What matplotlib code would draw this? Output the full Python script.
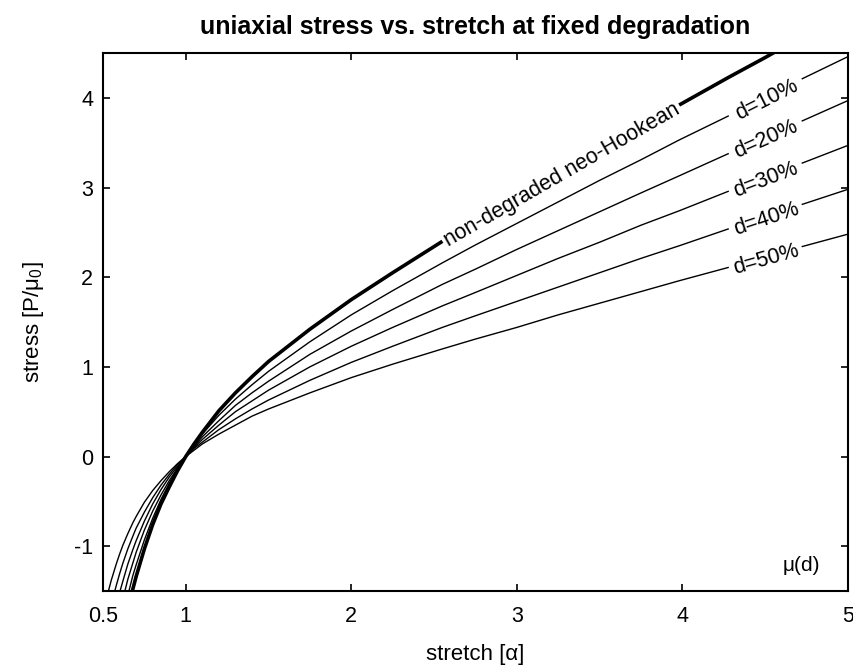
import numpy as np
import matplotlib
matplotlib.use("Agg")
import matplotlib.pyplot as plt

plt.rcParams["font.family"] = ["Liberation Sans", "DejaVu Sans"]
plt.rcParams["mathtext.fontset"] = "custom"
plt.rcParams["mathtext.rm"] = "Liberation Sans"
plt.rcParams["axes.unicode_minus"] = False

# stretch values sampled along the curves
stretch = [0.50, 0.52, 0.55, 0.58, 0.60, 0.62, 0.65, 0.68, 0.70, 0.75, 0.80, 0.85, 0.90,
           0.95, 1.00, 1.05, 1.10, 1.20, 1.30, 1.40, 1.50, 1.75, 2.00, 2.25, 2.55,
           2.75, 3.00, 3.25, 3.50, 3.75, 3.98, 4.28, 4.50, 4.72, 5.00]

# stress, one list per degradation level
stress_d0 = [-3.50, -3.18, -2.76, -2.39, -2.18, -1.98, -1.72, -1.48, -1.34, -1.03, -0.76, -0.53, -0.34,
             -0.16, 0.00, 0.14, 0.27, 0.51, 0.71, 0.89, 1.06, 1.42, 1.75, 2.05, 2.40,
             2.62, 2.89, 3.16, 3.42, 3.68, 3.92, 4.23, 4.45, 4.68, 4.96]
stress_d10 = [-3.15, -2.86, -2.48, -2.15, -1.96, -1.78, -1.55, -1.33, -1.21, -0.93, -0.69, -0.48, -0.30,
              -0.14, 0.00, 0.13, 0.25, 0.46, 0.64, 0.80, 0.95, 1.28, 1.58, 1.85, 2.16,
              2.36, 2.60, 2.84, 3.08, 3.31, 3.53, 3.80, 4.01, 4.21, 4.46]
stress_d20 = [-2.80, -2.54, -2.21, -1.91, -1.74, -1.59, -1.37, -1.19, -1.07, -0.82, -0.61, -0.43, -0.27,
              -0.13, 0.00, 0.11, 0.22, 0.40, 0.57, 0.71, 0.84, 1.14, 1.40, 1.64, 1.92,
              2.09, 2.31, 2.52, 2.73, 2.94, 3.13, 3.38, 3.56, 3.74, 3.97]
stress_d30 = [-2.45, -2.23, -1.93, -1.68, -1.52, -1.39, -1.20, -1.04, -0.94, -0.72, -0.53, -0.37, -0.23,
              -0.11, 0.00, 0.10, 0.19, 0.35, 0.50, 0.62, 0.74, 1.00, 1.23, 1.44, 1.68,
              1.83, 2.02, 2.21, 2.39, 2.58, 2.74, 2.96, 3.12, 3.27, 3.47]
stress_d40 = [-2.10, -1.91, -1.65, -1.44, -1.31, -1.19, -1.03, -0.89, -0.80, -0.62, -0.46, -0.32, -0.20,
              -0.09, 0.00, 0.09, 0.16, 0.30, 0.42, 0.53, 0.63, 0.85, 1.05, 1.23, 1.44,
              1.57, 1.73, 1.89, 2.05, 2.21, 2.35, 2.54, 2.67, 2.81, 2.98]
stress_d50 = [-1.75, -1.59, -1.38, -1.20, -1.09, -0.99, -0.86, -0.74, -0.67, -0.51, -0.38, -0.27, -0.17,
              -0.08, 0.00, 0.07, 0.14, 0.25, 0.35, 0.45, 0.53, 0.71, 0.88, 1.03, 1.20,
              1.31, 1.44, 1.58, 1.71, 1.84, 1.96, 2.11, 2.23, 2.34, 2.48]

curve_labels = ["non-degraded neo-Hookean", "d=10%", "d=20%", "d=30%", "d=40%", "d=50%"]
# stretch range where each label sits on its curve
label_gaps = [(2.55, 3.98), (4.28, 4.72), (4.28, 4.72), (4.28, 4.72), (4.28, 4.72), (4.28, 4.72)]
line_widths = [2.6, 1.0, 1.0, 1.0, 1.0, 1.0]


def draw_curve(ax, a, s, label, gap, lw):
    masked = np.where((a > gap[0] + 1e-9) & (a < gap[1] - 1e-9), np.nan, s)
    ax.plot(a, masked, color="black", lw=lw, solid_capstyle="butt")
    i0 = int(np.argmin(np.abs(a - gap[0])))
    i1 = int(np.argmin(np.abs(a - gap[1])))
    xm = 0.5 * (a[i0] + a[i1])
    ym = 0.5 * (s[i0] + s[i1])
    ang = np.degrees(np.arctan2(s[i1] - s[i0], a[i1] - a[i0]))
    ax.text(xm, ym, label, fontsize=15.5, rotation=ang, transform_rotates_text=True,
            rotation_mode="anchor", ha="center", va="center_baseline")


def main():
    fig = plt.figure(figsize=(8.54, 6.66), dpi=100)
    ax = fig.add_axes([0.1206, 0.1126, 0.8724, 0.8078])

    a = np.array(stretch)
    curves = [stress_d0, stress_d10, stress_d20, stress_d30, stress_d40, stress_d50]
    for s, label, gap, lw in zip(curves, curve_labels, label_gaps, line_widths):
        draw_curve(ax, a, np.array(s), label, gap, lw)

    ax.text(4.72, -1.22, "\u03bc(d)", fontsize=15, ha="center", va="center")

    ax.set_xlim(0.5, 5)
    ax.set_ylim(-1.5, 4.5)
    ax.set_xticks([0.5, 1, 2, 3, 4, 5])
    ax.set_xticklabels(["0.5", "1", "2", "3", "4", "5"])
    ax.set_yticks([-1, 0, 1, 2, 3, 4])
    ax.tick_params(direction="in", top=True, right=True, length=5, width=1.2,
                   labelsize=15.5)
    ax.tick_params(axis="x", pad=11)
    ax.tick_params(axis="y", pad=7)
    for sp in ax.spines.values():
        sp.set_linewidth(1.5)

    ax.set_xlabel("stretch [\u03b1]", fontsize=16, labelpad=12)
    ax.set_ylabel(r"stress [P/$\mathregular{\mu_0}$]", fontsize=16, labelpad=20)
    ax.set_title("uniaxial stress vs. stretch at fixed degradation",
                 fontsize=18, fontweight="bold", pad=14)

    fig.savefig("out.png", dpi=100)


if __name__ == "__main__":
    main()
